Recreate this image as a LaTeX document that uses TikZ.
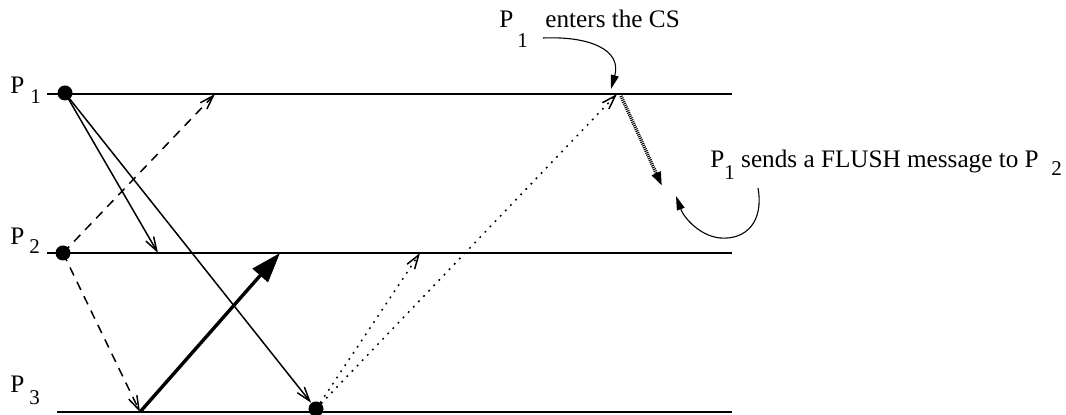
\documentclass[tikz,border=0pt]{standalone}
\usepackage{fontspec}
\setmainfont{Liberation Serif}
\usetikzlibrary{arrows.meta}
\newcommand{\lowsub}[1]{\raisebox{-0.45em}{\fontsize{10.5}{12}\selectfont #1}}
\tikzset{
	proc/.style={line width=1pt},
	evt/.style={circle, fill=black, inner sep=0pt, minimum size=7.5pt},
	msg/.style={line width=0.75pt, -{Straight Barb[length=7pt,width=4.5pt]}},
	dashmsg/.style={msg, dash pattern=on 4.5pt off 3.5pt},
	dotmsg/.style={msg, dash pattern=on 0.9pt off 2.8pt},
	bigmsg/.style={line width=1.7pt, -{Triangle[length=15pt,width=10pt]}},
	flushmsg/.style={line width=1.7pt, dash pattern=on 0.5pt off 0.5pt,
		-{Triangle[length=7pt,width=4.5pt]}},
	note/.style={line width=0.55pt, -{Triangle[length=7pt,width=4pt]}},
	lbl/.style={inner sep=0pt, anchor=base west, font=\fontsize{12.6}{15}\selectfont},
	sublbl/.style={inner sep=0pt, anchor=base west, font=\fontsize{10.5}{12}\selectfont}
}
\begin{document}
\begin{tikzpicture}[x=0.5pt, y=-0.5pt]
	\useasboundingbox (0,0) rectangle (1066,415);
	% Lineas de los procesos
	\coordinate (p1a) at (47,94);   \coordinate (p1b) at (732,94);
	\coordinate (p2a) at (47,253);  \coordinate (p2b) at (732,253);
	\coordinate (p3a) at (57,412);  \coordinate (p3b) at (732,412);
	\draw[proc] (p1a) -- (p1b);
	\draw[proc] (p2a) -- (p2b);
	\draw[proc] (p3a) -- (p3b);
	% Etiquetas de los procesos
	\node[lbl] (lp1) at (10,94) {P};    \node[sublbl] (lp1s) at (30,104) {1};
	\node[lbl] (lp2) at (10,245) {P};   \node[sublbl] (lp2s) at (29,254) {2};
	\node[lbl] (lp3) at (10,393) {P};   \node[sublbl] (lp3s) at (29,405) {3};
	% Eventos de envio
	\node[evt] (d1) at (65,93) {};
	\node[evt] (d2) at (63,253) {};
	\node[evt] (d3) at (316,409) {};
	% Puntos de recepcion
	\coordinate (r12) at (158,253);
	\coordinate (r21) at (215,94);
	\coordinate (r23) at (140,412);
	\coordinate (r32) at (280,253);
	\coordinate (s32) at (420,253);
	\coordinate (s31) at (617,94);
	\coordinate (f1) at (621,96);
	\coordinate (f2) at (662,186);
	% Mensajes
	\draw[msg] (d1.center) -- (r12);
	\draw[msg] (d1.center) -- (d3);
	\draw[dashmsg] (d2.center) -- (r21);
	\draw[dashmsg] (d2.center) -- (r23);
	\draw[bigmsg] (r23) -- (r32);
	\draw[dotmsg] (d3.center) -- (s32);
	\draw[dotmsg] (d3.center) -- (s31);
	\draw[flushmsg] (f1) -- (f2);
	% Anotacion: entrada en la seccion critica
	\node[lbl] (cs) at (499,28) {P};
	\node[sublbl] (css) at (517,48) {1};
	\node[lbl] (cst) at (545,28) {enters the CS};
	\coordinate (cs0) at (543,38);
	\coordinate (cs1) at (611,89);
	\draw[note] (cs0) .. controls (590,36) and (622,50) .. (cs1);
	% Anotacion: mensaje FLUSH
	\node[lbl] (fl) at (710,168) {P\lowsub{1}\ sends a FLUSH message to P};
	\node[sublbl] (fls) at (1051,176) {2};
	\coordinate (fl0) at (758,188);
	\coordinate (fl1) at (720,238);
	\coordinate (fl2) at (676,196);
	\draw[note] (fl0) .. controls (764,222) and (746,240) .. (fl1)
		.. controls (700,236) and (684,218) .. (fl2);
\end{tikzpicture}
\end{document}
